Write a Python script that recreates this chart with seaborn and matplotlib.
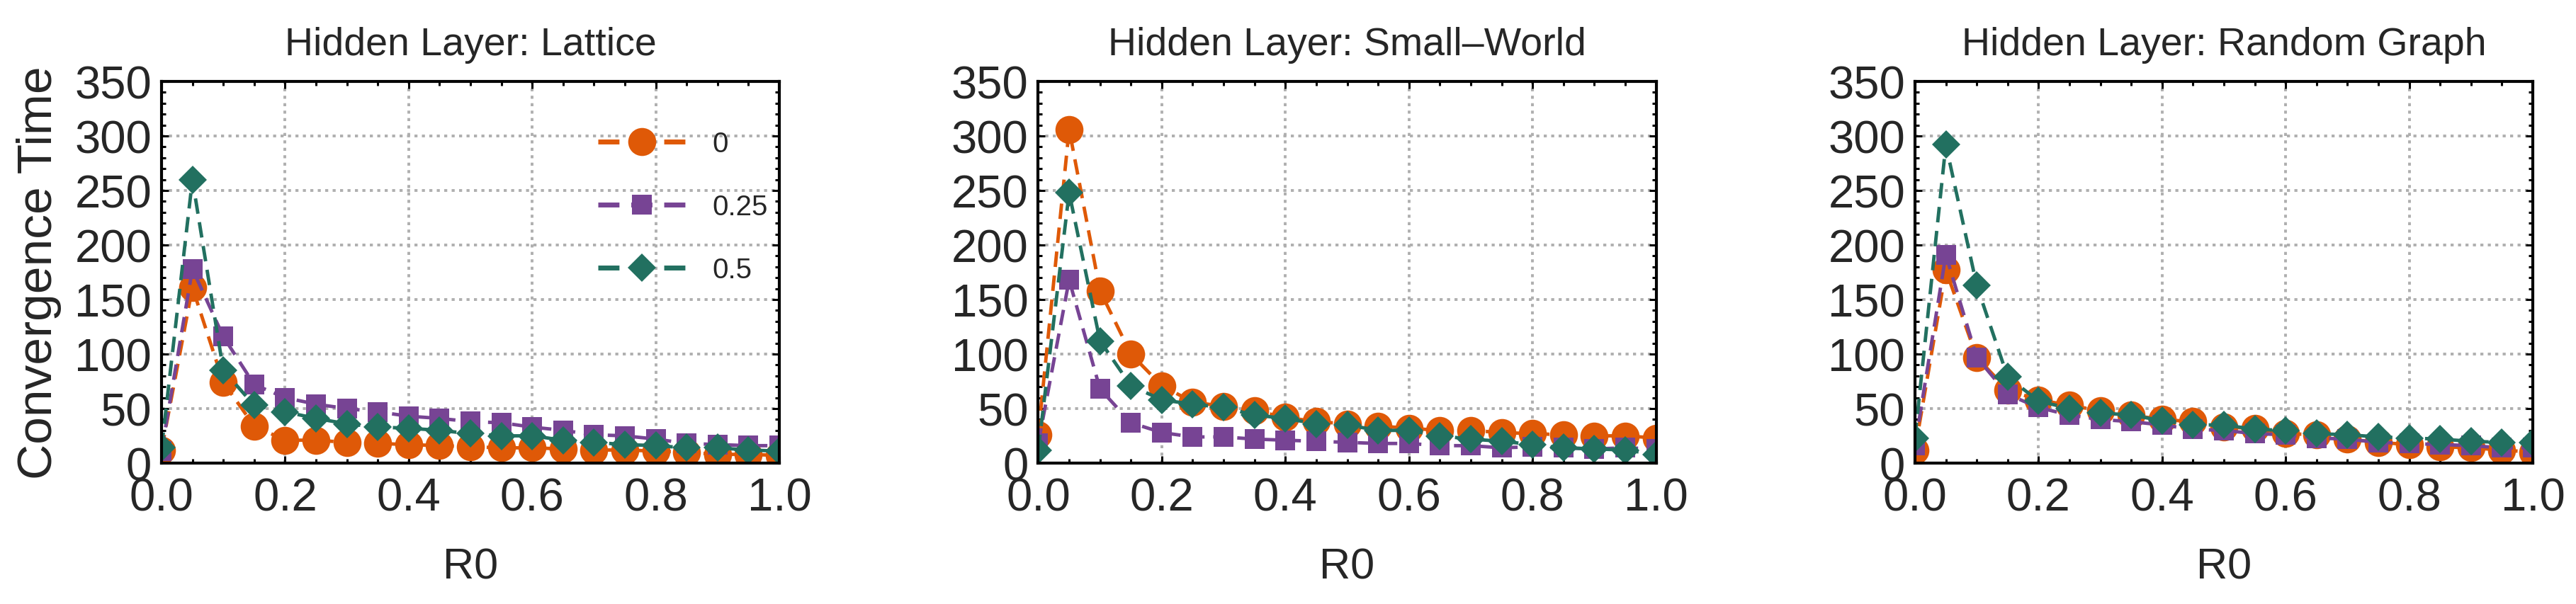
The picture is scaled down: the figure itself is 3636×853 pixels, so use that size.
import matplotlib
matplotlib.use("Agg")
import matplotlib.pyplot as plt
from matplotlib.ticker import MultipleLocator
import seaborn as sns

# R0 values on the x axis
r0 = [0.0, 0.05, 0.1, 0.15, 0.2, 0.25, 0.3, 0.35, 0.4, 0.45, 0.5,
      0.55, 0.6, 0.65, 0.7, 0.75, 0.8, 0.85, 0.9, 0.95, 1.0]

titles = ["Hidden Layer: Lattice", "Hidden Layer: Small\u2013World", "Hidden Layer: Random Graph"]
series_labels = ["0", "0.25", "0.5"]

# convergence time, one list per series and panel
lattice_0 = [12, 161, 74, 34, 21, 21, 19, 18, 17, 16, 15, 14, 14, 13, 12, 12, 11, 10, 8, 8, 7]
lattice_025 = [11, 178, 116, 72, 60, 54, 50, 47, 43, 41, 38, 37, 33, 30, 26, 25, 22, 18, 17, 16, 16]
lattice_05 = [14, 260, 85, 53, 47, 41, 36, 33, 32, 30, 27, 25, 25, 21, 19, 17, 16, 14, 14, 12, 11]

smallworld_0 = [26, 306, 158, 100, 71, 56, 52, 48, 42, 38, 36, 34, 32, 30, 30, 28, 27, 26, 25, 25, 23]
smallworld_025 = [18, 168, 68, 37, 28, 24, 24, 22, 21, 20, 19, 18, 18, 16, 16, 14, 15, 14, 13, 14, 13]
smallworld_05 = [12, 248, 112, 71, 58, 54, 51, 44, 41, 36, 35, 30, 30, 25, 22, 20, 17, 14, 13, 12, 8]

random_0 = [12, 177, 97, 67, 58, 53, 48, 44, 40, 38, 33, 32, 27, 26, 22, 19, 17, 15, 14, 12, 10]
random_025 = [16, 191, 97, 63, 51, 44, 40, 38, 35, 31, 30, 27, 26, 23, 22, 19, 18, 17, 16, 14, 14]
random_05 = [23, 292, 163, 79, 57, 50, 46, 44, 39, 35, 35, 31, 30, 27, 26, 24, 23, 22, 20, 19, 19]

panels = [
    [lattice_0, lattice_025, lattice_05],
    [smallworld_0, smallworld_025, smallworld_05],
    [random_0, random_025, random_05],
]

colors = ["#DF5907", "#774494", "#227060"]
markers = ["o", "s", "D"]
marker_sizes = [28.5, 19.5, 20.5]

sns.set_style("ticks")
plt.rcParams["font.family"] = ["Liberation Sans", "DejaVu Sans"]
plt.rcParams["axes.linewidth"] = 3

fig, axs = plt.subplots(1, 3, figsize=(36.37, 8.54), dpi=100)
fig.subplots_adjust(left=228 / 3637, right=3575 / 3637, bottom=1 - 655 / 854,
                    top=1 - 116 / 854, wspace=0.419)

for i, ax in enumerate(axs):
    for vals, c, m, ms, lab in zip(panels[i], colors, markers, marker_sizes, series_labels):
        sns.lineplot(x=r0, y=vals, ax=ax, color=c, marker=m, markersize=ms,
                     markeredgewidth=0, linewidth=3.5, linestyle=(0, (4.5, 2.5)),
                     errorbar=None, label=lab if i == 0 else None)

    ax.set_xlim(0, 1)
    ax.set_ylim(0, 350)
    ax.xaxis.set_major_locator(MultipleLocator(0.2))
    ax.xaxis.set_minor_locator(MultipleLocator(0.05))
    ax.yaxis.set_major_locator(MultipleLocator(50))
    ax.yaxis.set_minor_locator(MultipleLocator(10))
    ax.tick_params(which="both", direction="in", top=True, right=True, width=2.2, color="black")
    ax.tick_params(which="major", length=7, labelsize=47)
    ax.tick_params(axis="x", which="major", pad=14)
    ax.tick_params(axis="y", which="major", pad=10)
    ax.tick_params(which="minor", length=4)
    ax.grid(which="major", color="#AFAFAF", linestyle=(0, (1.1, 1.6)), linewidth=2.8)
    ax.set_axisbelow(True)
    for sp in ax.spines.values():
        sp.set_color("black")
        sp.set_linewidth(3)

    ax.set_title(titles[i], fontsize=40, pad=27)
    ax.set_xlabel("R0", fontsize=44, labelpad=28)
    ax.set_ylabel("Convergence Time" if i == 0 else "", fontsize=50, labelpad=13)

    if i == 0:
        leg = ax.legend(loc="upper left", bbox_to_anchor=(0.7067, 0.872), frameon=False,
                        fontsize=29, handlelength=3.08, handletextpad=0.92,
                        labelspacing=1.27, borderpad=0, borderaxespad=0)
        for ln in leg.get_lines():
            ln.set_linestyle((0, (4.3, 2.4)))
            ln.set_linewidth(5)
    else:
        if ax.get_legend() is not None:
            ax.get_legend().remove()

fig.savefig("out.png", dpi=100)
